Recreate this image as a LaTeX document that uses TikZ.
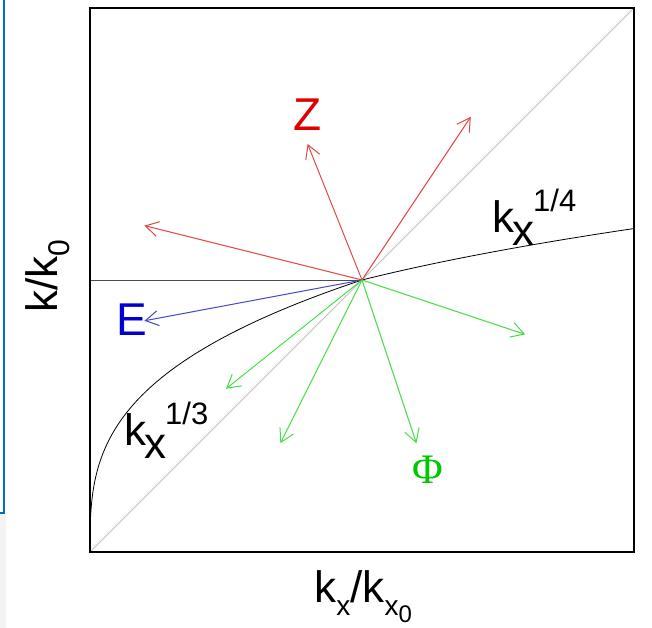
\documentclass[tikz,border=0pt]{standalone}
\usepackage{fontspec}
\setmainfont{Liberation Sans}
\newfontfamily\phifont{Liberation Serif}
\usepackage{xcolor}
\usetikzlibrary{arrows.meta}
\definecolor{vecred}{HTML}{E04646}
\definecolor{vecblue}{HTML}{4646C8}
\definecolor{vecgreen}{HTML}{46DC46}
\definecolor{labred}{HTML}{E00000}
\definecolor{labblue}{HTML}{0000D0}
\definecolor{labgreen}{HTML}{00C800}
\definecolor{frameblue}{HTML}{0070C0}
\definecolor{diaggray}{HTML}{C0C0C0}
\definecolor{margingray}{HTML}{F3F3F3}
\newcommand{\kexp}[1]{k\kern-2pt\raisebox{-13pt}{x}\kern-1pt\raisebox{21pt}{\fontsize{31}{31}\selectfont #1}}
\tikzset{vec/.style={line width=1pt,-{Straight Barb[length=13pt,width=15pt]}}}

\begin{document}
\begin{tikzpicture}[x=272pt,y=272pt,font=\fontsize{44}{44}\selectfont]
    \useasboundingbox (-0.3309,-0.2794) rectangle (2.0662,2.0294);
    \fill[margingray](-0.3309,-0.2794) rectangle (-0.3088,0.136);
    \draw[frameblue,line width=2.2pt](-0.3309,0.1434)--(-0.3162,0.1434)--(-0.3162,2.0294);
    \coordinate (c) at (1,1);
    \draw[diaggray,line width=1pt](0,0)--(2,2);
    \draw[black!70,line width=0.8pt](0,1)--(c);
    \draw[line width=0.8pt] plot[domain=0:1,samples=120] ({\x^3},\x);
    \draw[line width=0.8pt] plot[domain=1:1.18921,samples=60] ({\x^4},\x);
    % red, blue and green vectors
    \coordinate (r1) at (0.2,1.2);
    \coordinate (r2) at (0.8,1.5);
    \coordinate (r3) at (1.4,1.6);
    \coordinate (b1) at (0.2,0.85);
    \coordinate (g1) at (1.6,0.8);
    \coordinate (g2) at (0.5,0.6);
    \coordinate (g3) at (0.7,0.4);
    \coordinate (g4) at (1.2,0.4);
    \draw[vec,vecred](c)--(r1);
    \draw[vec,vecred](c)--(r2);
    \draw[vec,vecred](c)--(r3);
    \draw[vec,vecblue](c)--(b1);
    \draw[vec,vecgreen](c)--(g1);
    \draw[vec,vecgreen](c)--(g2);
    \draw[vec,vecgreen](c)--(g3);
    \draw[vec,vecgreen](c)--(g4);
    \draw[line width=2pt](0,0) rectangle (2,2);
    % labels
    \node[labred,font=\fontsize{46}{46}\selectfont] (zlab) at (0.801,1.607) {Z};
    \node[labblue,font=\fontsize{46}{46}\selectfont] (elab) at (0.154,0.853) {E};
    \node[labgreen,font=\phifont\fontsize{42}{42}\selectfont] (philab) at (1.241,0.301) {Φ};
    \node[anchor=base west,inner sep=0pt] (quarter) at (1.478,1.173) {\kexp{1/4}};
    \node[anchor=base west,inner sep=0pt] (third) at (0.125,0.393) {\kexp{1/3}};
    \node[anchor=base,inner sep=0pt] (xlab) at (1.004,-0.184)
      {k\raisebox{-13pt}{\fontsize{28}{28}\selectfont x}/k\raisebox{-13pt}{\fontsize{28}{28}\selectfont x\raisebox{-7pt}{\fontsize{24}{24}\selectfont 0}}};
    \node[anchor=base,inner sep=0pt,rotate=90] (ylab) at (-0.121,1.015)
      {k/k\raisebox{-12pt}{\fontsize{30}{30}\selectfont 0}};
\end{tikzpicture}
\end{document}
